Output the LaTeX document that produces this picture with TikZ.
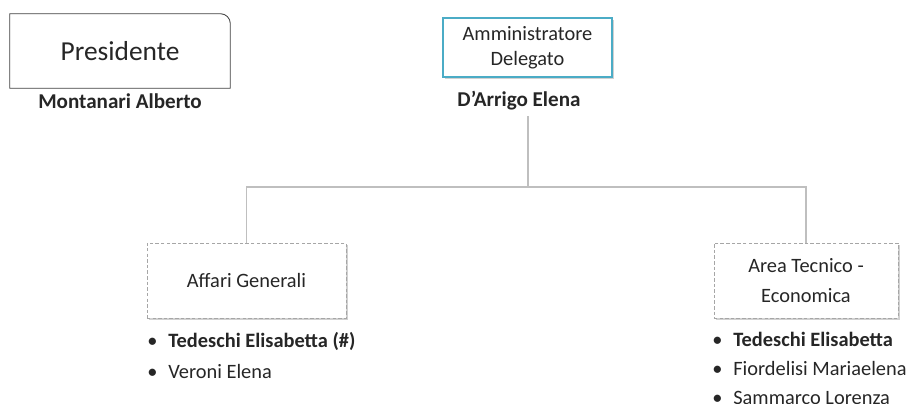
\documentclass[tikz,border=0pt]{standalone}
\usepackage{fontspec}
\setmainfont{Carlito}
\usetikzlibrary{shadows}

\definecolor{txtgray}{HTML}{262626}
\definecolor{linegray}{HTML}{BFBFBF}
\definecolor{dashgray}{HTML}{A6A6A6}
\definecolor{adateal}{HTML}{4BACC6}

\begin{document}
\begin{tikzpicture}[x=0.025cm, y=-0.025cm, font=\fontsize{14}{17}\selectfont, text=txtgray,
    unitbox/.style={draw=dashgray, dash pattern=on 2.5pt off 1.5pt, fill=white, align=center,
        minimum height=1.875cm, drop shadow={shadow xshift=1.5pt, shadow yshift=-1.5pt, fill=gray!60, opacity=0.6}},
    person/.style={font=\fontsize{15}{17}\selectfont\bfseries},
    staff/.style={anchor=north west, inner sep=0pt, align=left},
    link/.style={draw=linegray, line width=0.8pt}]
    \useasboundingbox (0,0) rectangle (916,403);

    % Presidente
    \node[minimum width=5.5cm, minimum height=1.85cm, font=\fontsize{19.5}{22}\selectfont] (pres) at (120,51) {Presidente};
    \draw[draw=black!75, line width=0.6pt] (pres.south west) -- (pres.north west) -- ([xshift=-7pt]pres.north east)
        arc[start angle=90, end angle=0, radius=7pt] -- (pres.south east) -- cycle;
    \node[person] (presname) at (120,101) {Montanari Alberto};

    % Amministratore Delegato
    \node[draw=adateal, line width=1.5pt, fill=white, align=center, minimum width=4.225cm, minimum height=1.475cm,
        drop shadow={shadow xshift=1.5pt, shadow yshift=-1.5pt, fill=gray!60, opacity=0.6},
        font=\fontsize{14.5}{18}\selectfont] (ada) at (527.5,47.5) {Amministratore\\Delegato};
    \node[person] (adaname) at (519,101) {D’Arrigo Elena};

    % Aree
    \node[unitbox, minimum width=4.975cm, font=\fontsize{14.5}{17}\selectfont] (affari) at (246.5,280.5) {Affari Generali};
    \node[unitbox, minimum width=4.6cm, font=\fontsize{14.5}{21}\selectfont] (area) at (806,280.5) {Area Tecnico -\\Economica};

    % Persone
    \node[staff, font=\fontsize{14.5}{22}\selectfont] (affarilist) at (147,332) {\makebox[15pt][l]{•}\textbf{Tedeschi Elisabetta (\#)}\\
        \makebox[15pt][l]{•}Veroni Elena};
    \node[staff, font=\fontsize{14.5}{20.5}\selectfont] (arealist) at (712,332) {\makebox[15pt][l]{•}\textbf{Tedeschi Elisabetta}\\
        \makebox[15pt][l]{•}Fiordelisi Mariaelena\\
        \makebox[15pt][l]{•}Sammarco Lorenza};

    % Connections
    \coordinate (top) at (528,116);
    \coordinate (split) at (528,187);
    \draw[link] (top) -- (split);
    \draw[link] (split) -| (affari.north);
    \draw[link] (split) -| (area.north);
\end{tikzpicture}
\end{document}
